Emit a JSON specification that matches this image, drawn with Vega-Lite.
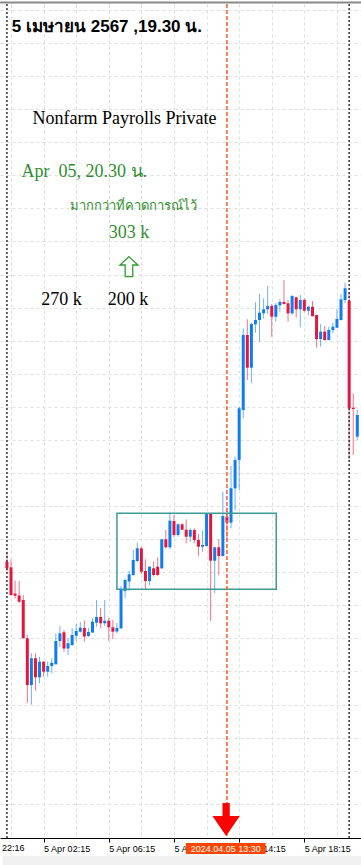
{
  "$schema": "https://vega.github.io/schema/vega-lite/v6.json",
  "width": 361,
  "height": 834,
  "autosize": {"type": "none"},
  "padding": {"left": 0, "top": 4, "right": 0, "bottom": 27},
  "background": "#ffffff",
  "config": {"view": {"stroke": null}},
  "resolve": {"axis": {"x": "independent", "y": "independent"}},
  "datasets": {
    "candles": [
      {"i":0,"o":2277.63,"h":2278.63,"l":2276.63,"c":2276.97},
      {"i":1,"o":2277.07,"h":2277.87,"l":2274.2,"c":2274.3},
      {"i":2,"o":2274.45,"h":2275.73,"l":2273.95,"c":2274.23},
      {"i":3,"o":2274.25,"h":2275.7,"l":2273.5,"c":2273.63},
      {"i":4,"o":2273.8,"h":2274.3,"l":2269.95,"c":2269.97},
      {"i":5,"o":2269.97,"h":2270.3,"l":2263.47,"c":2265.3},
      {"i":6,"o":2265.3,"h":2268.47,"l":2263.35,"c":2267.97},
      {"i":7,"o":2267.97,"h":2268.47,"l":2264.73,"c":2266.07},
      {"i":8,"o":2266.07,"h":2268.13,"l":2265.47,"c":2267.63},
      {"i":9,"o":2267.63,"h":2267.65,"l":2266.13,"c":2266.63},
      {"i":10,"o":2266.63,"h":2267.63,"l":2266.13,"c":2267.2},
      {"i":11,"o":2267.2,"h":2267.97,"l":2266.47,"c":2267.53},
      {"i":12,"o":2267.37,"h":2270.47,"l":2267.35,"c":2269.7},
      {"i":13,"o":2269.7,"h":2271.2,"l":2269.1,"c":2270.47},
      {"i":14,"o":2270.57,"h":2270.8,"l":2268.63,"c":2268.95},
      {"i":15,"o":2268.95,"h":2269.97,"l":2268.3,"c":2269.47},
      {"i":16,"o":2269.3,"h":2271.0,"l":2269.2,"c":2270.3},
      {"i":17,"o":2270.23,"h":2271.4,"l":2269.7,"c":2270.7},
      {"i":18,"o":2270.63,"h":2271.6,"l":2270.55,"c":2271.03},
      {"i":19,"o":2271.0,"h":2271.75,"l":2269.63,"c":2270.15},
      {"i":20,"o":2270.2,"h":2271.0,"l":2270.1,"c":2270.6},
      {"i":21,"o":2270.55,"h":2271.97,"l":2270.5,"c":2271.63},
      {"i":22,"o":2271.53,"h":2273.8,"l":2271.13,"c":2272.1},
      {"i":23,"o":2272.1,"h":2273.0,"l":2270.97,"c":2271.47},
      {"i":24,"o":2271.47,"h":2273.8,"l":2271.2,"c":2271.73},
      {"i":25,"o":2271.73,"h":2272.0,"l":2269.7,"c":2271.07},
      {"i":26,"o":2271.07,"h":2271.8,"l":2269.9,"c":2270.63},
      {"i":27,"o":2270.65,"h":2271.5,"l":2270.47,"c":2271.0},
      {"i":28,"o":2270.97,"h":2275.2,"l":2270.9,"c":2274.8},
      {"i":29,"o":2274.7,"h":2275.95,"l":2274.0,"c":2275.8},
      {"i":30,"o":2275.65,"h":2276.75,"l":2274.7,"c":2276.37},
      {"i":31,"o":2276.3,"h":2278.8,"l":2276.2,"c":2277.8},
      {"i":32,"o":2277.7,"h":2279.53,"l":2277.6,"c":2278.97},
      {"i":33,"o":2278.97,"h":2279.13,"l":2276.4,"c":2276.63},
      {"i":34,"o":2276.7,"h":2277.87,"l":2274.87,"c":2275.7},
      {"i":35,"o":2275.7,"h":2277.2,"l":2275.3,"c":2277.13},
      {"i":36,"o":2276.97,"h":2277.63,"l":2276.13,"c":2276.3},
      {"i":37,"o":2277.13,"h":2278.07,"l":2276.2,"c":2276.3},
      {"i":38,"o":2276.97,"h":2279.9,"l":2276.9,"c":2279.87},
      {"i":39,"o":2279.87,"h":2280.8,"l":2278.97,"c":2279.07},
      {"i":40,"o":2279.07,"h":2282.53,"l":2278.87,"c":2281.73},
      {"i":41,"o":2281.7,"h":2282.3,"l":2280.07,"c":2280.3},
      {"i":42,"o":2280.3,"h":2281.47,"l":2280.13,"c":2281.37},
      {"i":43,"o":2281.37,"h":2281.47,"l":2280.8,"c":2280.83},
      {"i":44,"o":2280.83,"h":2281.87,"l":2279.47,"c":2280.13},
      {"i":45,"o":2280.13,"h":2280.97,"l":2279.63,"c":2280.8},
      {"i":46,"o":2280.8,"h":2280.97,"l":2279.47,"c":2279.8},
      {"i":47,"o":2279.8,"h":2280.4,"l":2278.2,"c":2279.13},
      {"i":48,"o":2279.13,"h":2280.7,"l":2278.63,"c":2279.3},
      {"i":49,"o":2279.2,"h":2282.47,"l":2279.15,"c":2282.47},
      {"i":50,"o":2282.47,"h":2282.47,"l":2271.73,"c":2277.73},
      {"i":51,"o":2277.73,"h":2279.13,"l":2274.47,"c":2279.07},
      {"i":52,"o":2279.07,"h":2279.87,"l":2276.3,"c":2278.2},
      {"i":53,"o":2278.2,"h":2284.63,"l":2278.15,"c":2282.2},
      {"i":54,"o":2282.13,"h":2283.07,"l":2279.73,"c":2281.53},
      {"i":55,"o":2281.53,"h":2287.2,"l":2280.97,"c":2284.97},
      {"i":56,"o":2284.97,"h":2288.13,"l":2282.8,"c":2287.8},
      {"i":57,"o":2287.8,"h":2293.13,"l":2284.8,"c":2292.97},
      {"i":58,"o":2292.8,"h":2300.97,"l":2291.97,"c":2300.3},
      {"i":59,"o":2300.3,"h":2301.87,"l":2295.8,"c":2297.03},
      {"i":60,"o":2297.03,"h":2301.53,"l":2295.47,"c":2301.4},
      {"i":61,"o":2301.37,"h":2303.57,"l":2300.53,"c":2301.8},
      {"i":62,"o":2301.8,"h":2304.4,"l":2299.63,"c":2302.53},
      {"i":63,"o":2302.47,"h":2303.97,"l":2301.97,"c":2302.87},
      {"i":64,"o":2302.87,"h":2305.2,"l":2302.4,"c":2303.2},
      {"i":65,"o":2303.2,"h":2303.4,"l":2300.13,"c":2302.13},
      {"i":66,"o":2302.13,"h":2303.47,"l":2301.63,"c":2303.3},
      {"i":67,"o":2303.27,"h":2303.87,"l":2302.63,"c":2303.6},
      {"i":68,"o":2303.6,"h":2305.8,"l":2303.35,"c":2303.4},
      {"i":69,"o":2303.47,"h":2303.8,"l":2301.63,"c":2302.47},
      {"i":70,"o":2302.47,"h":2304.3,"l":2302.3,"c":2304.2},
      {"i":71,"o":2304.07,"h":2304.13,"l":2302.05,"c":2302.87},
      {"i":72,"o":2302.87,"h":2304.3,"l":2301.07,"c":2303.8},
      {"i":73,"o":2303.8,"h":2303.97,"l":2302.63,"c":2302.73},
      {"i":74,"o":2302.73,"h":2303.2,"l":2302.3,"c":2303.13},
      {"i":75,"o":2303.13,"h":2303.7,"l":2302.13,"c":2302.2},
      {"i":76,"o":2302.3,"h":2302.3,"l":2299.03,"c":2299.9},
      {"i":77,"o":2299.9,"h":2301.4,"l":2299.13,"c":2300.63},
      {"i":78,"o":2300.63,"h":2301.2,"l":2299.73,"c":2299.8},
      {"i":79,"o":2299.8,"h":2301.13,"l":2299.75,"c":2300.8},
      {"i":80,"o":2300.8,"h":2301.53,"l":2300.47,"c":2301.13},
      {"i":81,"o":2301.03,"h":2302.87,"l":2301.0,"c":2301.9},
      {"i":82,"o":2301.8,"h":2304.4,"l":2301.75,"c":2303.87},
      {"i":83,"o":2303.8,"h":2305.53,"l":2303.47,"c":2304.97},
      {"i":84,"o":2303.73,"h":2304.53,"l":2287.87,"c":2292.97},
      {"i":85,"o":2293.03,"h":2294.47,"l":2288.3,"c":2292.9},
      {"i":86,"o":2290.13,"h":2292.8,"l":2289.8,"c":2292.3}
    ],
    "zone": [{"i": 27, "i2": 66.1, "p": 2282.47, "p2": 2274.87}],
    "release": [{"i": 54}],
    "daysep": [{"i": 0}, {"i": 84}],
    "topline": [{"p": 2333.55}],
    "footband": [{"i": -1, "i2": 87, "p": 2248.2, "p2": 2246.5}],
    "header": [{"i": 1.2, "p": 2331.1, "label": "5 เมษายน 2567 ,19.30 น."}],
    "blacknotes": [
      {"i": 28.88, "p": 2321.87, "label": "Nonfarm Payrolls Private"},
      {"i": 13.4, "p": 2303.8, "label": "270 k"},
      {"i": 29.7, "p": 2303.8, "label": "200 k"}
    ],
    "greennotes": [
      {"i": 19.0, "p": 2316.6, "label": "Apr\u00a0\u00a005, 20.30 น."},
      {"i": 29.95, "p": 2310.47, "label": "303 k"}
    ],
    "thainote": [{"i": 15.5, "p": 2313.2, "label": "มากกว่าที่คาดการณ์ไว้"}],
    "uparrow": [{"i": 29.95, "p": 2307.13}],
    "downarrow": [{"i": 53.8, "p": 2251.85}],
    "marker": [{"i": 43.91, "i2": 63.48, "p": 2249.5, "p2": 2248.4, "mid": 53.7, "pm": 2248.93, "label": "2024.04.05 13:30"}],
    "firstlabel": [{"i": -7, "p": 2249.36, "label": "4 Apr 22:16"}]
  },
  "layer": [
    {
      "data": {"name": "candles"},
      "mark": {"type": "rule", "strokeWidth": 1, "opacity": 0.6, "clip": true},
      "encoding": {
        "x": {
          "field": "i", "type": "quantitative",
          "scale": {"domain": [-0.477, 85.68], "nice": false, "zero": false},
          "axis": {
            "title": null,
            "values": [1, 9, 17, 25, 33, 41, 49, 57, 65, 73, 81],
            "grid": true, "gridDash": [3, 3], "gridColor": "#dedede", "gridWidth": 1,
            "labelExpr": "datum.value == 9 ? '5 Apr 02:15' : datum.value == 25 ? '5 Apr 06:15' : datum.value == 41 ? '5 Apr 10:15' : datum.value == 57 ? '5 Apr 14:15' : datum.value == 73 ? '5 Apr 18:15' : ''",
            "labelAlign": "left", "labelBaseline": "top",
            "labelFont": "Liberation Sans", "labelFontSize": 9, "labelColor": "#000000",
            "labelPadding": 2, "labelOverlap": false, "labelBound": false, "labelFlush": false,
            "tickSize": 4, "tickColor": "#000000",
            "tickOpacity": {"condition": {"test": "(datum.value - 9) % 16 == 0", "value": 1}, "value": 0},
            "domainColor": "#000000", "domainWidth": 1
          }
        },
        "y": {
          "field": "l", "type": "quantitative",
          "scale": {"domain": [2250, 2333.4], "nice": false, "zero": false},
          "axis": {
            "title": null,
            "values": [2332.81, 2329.5, 2326.19, 2322.88, 2319.58, 2316.27, 2312.96, 2309.65, 2306.34, 2303.04, 2299.73, 2296.42, 2293.11, 2289.8, 2286.5, 2283.19, 2279.88, 2276.57, 2273.26, 2269.96, 2266.65, 2263.34, 2260.03, 2256.72, 2253.42],
            "grid": true, "gridDash": [3, 3], "gridColor": "#dedede", "gridWidth": 1,
            "labels": false, "ticks": false, "domain": false
          }
        },
        "y2": {"field": "h"},
        "color": {"condition": {"test": "datum.c >= datum.o", "value": "#0f7cf2"}, "value": "#e5153e"}
      }
    },
    {
      "data": {"name": "footband"},
      "mark": {"type": "rect", "color": "#f0f0f0", "clip": false},
      "encoding": {
        "x": {"field": "i", "type": "quantitative", "scale": {"domain": [-0.477, 85.68], "nice": false, "zero": false}, "axis": null},
        "x2": {"field": "i2"},
        "y": {"field": "p", "type": "quantitative", "scale": {"domain": [2250, 2333.4], "nice": false, "zero": false}, "axis": null},
        "y2": {"field": "p2"}
      }
    },
    {
      "data": {"name": "daysep"},
      "mark": {"type": "rule", "color": "#333333", "strokeWidth": 1.5, "strokeDash": [2, 2]},
      "encoding": {
        "x": {"field": "i", "type": "quantitative", "scale": {"domain": [-0.477, 85.68], "nice": false, "zero": false}, "axis": null}
      }
    },
    {
      "data": {"name": "candles"},
      "mark": {"type": "bar", "size": 3, "clip": true},
      "encoding": {
        "x": {"field": "i", "type": "quantitative", "scale": {"domain": [-0.477, 85.68], "nice": false, "zero": false}, "axis": null},
        "y": {"field": "o", "type": "quantitative", "scale": {"domain": [2250, 2333.4], "nice": false, "zero": false}, "axis": null},
        "y2": {"field": "c"},
        "color": {"condition": {"test": "datum.c >= datum.o", "value": "#0f7cf2"}, "value": "#e5153e"}
      }
    },
    {
      "data": {"name": "zone"},
      "mark": {"type": "rect", "filled": false, "stroke": "#3c9c94", "strokeWidth": 1.5},
      "encoding": {
        "x": {"field": "i", "type": "quantitative", "scale": {"domain": [-0.477, 85.68], "nice": false, "zero": false}, "axis": null},
        "x2": {"field": "i2"},
        "y": {"field": "p", "type": "quantitative", "scale": {"domain": [2250, 2333.4], "nice": false, "zero": false}, "axis": null},
        "y2": {"field": "p2"}
      }
    },
    {
      "data": {"name": "release"},
      "mark": {"type": "rule", "color": "#ff5a1f", "strokeWidth": 1.5, "strokeDash": [4, 2]},
      "encoding": {
        "x": {"field": "i", "type": "quantitative", "scale": {"domain": [-0.477, 85.68], "nice": false, "zero": false}, "axis": null}
      }
    },
    {
      "data": {"name": "topline"},
      "mark": {"type": "rule", "color": "#8a8a8a", "strokeWidth": 2, "clip": false},
      "encoding": {
        "y": {"field": "p", "type": "quantitative", "scale": {"domain": [2250, 2333.4], "nice": false, "zero": false}, "axis": null}
      }
    },
    {
      "data": {"name": "header"},
      "mark": {"type": "text", "font": "Liberation Sans", "fontSize": 17, "fontWeight": "bold", "color": "#000000", "align": "left", "baseline": "middle"},
      "encoding": {
        "x": {"field": "i", "type": "quantitative", "scale": {"domain": [-0.477, 85.68], "nice": false, "zero": false}, "axis": null},
        "y": {"field": "p", "type": "quantitative", "scale": {"domain": [2250, 2333.4], "nice": false, "zero": false}, "axis": null},
        "text": {"field": "label"}
      }
    },
    {
      "data": {"name": "blacknotes"},
      "mark": {"type": "text", "font": "Liberation Serif", "fontSize": 18, "color": "#000000", "align": "center", "baseline": "middle"},
      "encoding": {
        "x": {"field": "i", "type": "quantitative", "scale": {"domain": [-0.477, 85.68], "nice": false, "zero": false}, "axis": null},
        "y": {"field": "p", "type": "quantitative", "scale": {"domain": [2250, 2333.4], "nice": false, "zero": false}, "axis": null},
        "text": {"field": "label"}
      }
    },
    {
      "data": {"name": "greennotes"},
      "mark": {"type": "text", "font": "Liberation Serif", "fontSize": 18, "color": "#2f8f2f", "align": "center", "baseline": "middle"},
      "encoding": {
        "x": {"field": "i", "type": "quantitative", "scale": {"domain": [-0.477, 85.68], "nice": false, "zero": false}, "axis": null},
        "y": {"field": "p", "type": "quantitative", "scale": {"domain": [2250, 2333.4], "nice": false, "zero": false}, "axis": null},
        "text": {"field": "label"}
      }
    },
    {
      "data": {"name": "thainote"},
      "mark": {"type": "text", "font": "Liberation Serif", "fontSize": 13, "color": "#2f8f2f", "align": "left", "baseline": "middle"},
      "encoding": {
        "x": {"field": "i", "type": "quantitative", "scale": {"domain": [-0.477, 85.68], "nice": false, "zero": false}, "axis": null},
        "y": {"field": "p", "type": "quantitative", "scale": {"domain": [2250, 2333.4], "nice": false, "zero": false}, "axis": null},
        "text": {"field": "label"}
      }
    },
    {
      "data": {"name": "uparrow"},
      "mark": {"type": "point", "shape": "M0,-1L0.9,-0.17L0.38,-0.17L0.38,1L-0.38,1L-0.38,-0.17L-0.9,-0.17Z", "size": 400, "filled": false, "stroke": "#2f9f2f", "strokeWidth": 1.3, "opacity": 1},
      "encoding": {
        "x": {"field": "i", "type": "quantitative", "scale": {"domain": [-0.477, 85.68], "nice": false, "zero": false}, "axis": null},
        "y": {"field": "p", "type": "quantitative", "scale": {"domain": [2250, 2333.4], "nice": false, "zero": false}, "axis": null}
      }
    },
    {
      "data": {"name": "downarrow"},
      "mark": {"type": "point", "shape": "M-0.22,-1L0.22,-1L0.22,-0.21L0.83,-0.21L0,1L-0.83,-0.21L-0.22,-0.21Z", "size": 1089, "filled": true, "color": "#ff0000", "opacity": 1},
      "encoding": {
        "x": {"field": "i", "type": "quantitative", "scale": {"domain": [-0.477, 85.68], "nice": false, "zero": false}, "axis": null},
        "y": {"field": "p", "type": "quantitative", "scale": {"domain": [2250, 2333.4], "nice": false, "zero": false}, "axis": null}
      }
    },
    {
      "data": {"name": "marker"},
      "mark": {"type": "rect", "color": "#ff4500", "clip": false},
      "encoding": {
        "x": {"field": "i", "type": "quantitative", "scale": {"domain": [-0.477, 85.68], "nice": false, "zero": false}, "axis": null},
        "x2": {"field": "i2"},
        "y": {"field": "p", "type": "quantitative", "scale": {"domain": [2250, 2333.4], "nice": false, "zero": false}, "axis": null},
        "y2": {"field": "p2"}
      }
    },
    {
      "data": {"name": "marker"},
      "mark": {"type": "text", "font": "Liberation Sans", "fontSize": 9, "color": "#ffffff", "align": "center", "baseline": "middle"},
      "encoding": {
        "x": {"field": "mid", "type": "quantitative", "scale": {"domain": [-0.477, 85.68], "nice": false, "zero": false}, "axis": null},
        "y": {"field": "pm", "type": "quantitative", "scale": {"domain": [2250, 2333.4], "nice": false, "zero": false}, "axis": null},
        "text": {"field": "label"}
      }
    },
    {
      "data": {"name": "firstlabel"},
      "mark": {"type": "text", "font": "Liberation Sans", "fontSize": 9, "color": "#000000", "align": "left", "baseline": "top"},
      "encoding": {
        "x": {"field": "i", "type": "quantitative", "scale": {"domain": [-0.477, 85.68], "nice": false, "zero": false}, "axis": null},
        "y": {"field": "p", "type": "quantitative", "scale": {"domain": [2250, 2333.4], "nice": false, "zero": false}, "axis": null},
        "text": {"field": "label"}
      }
    }
  ]
}
